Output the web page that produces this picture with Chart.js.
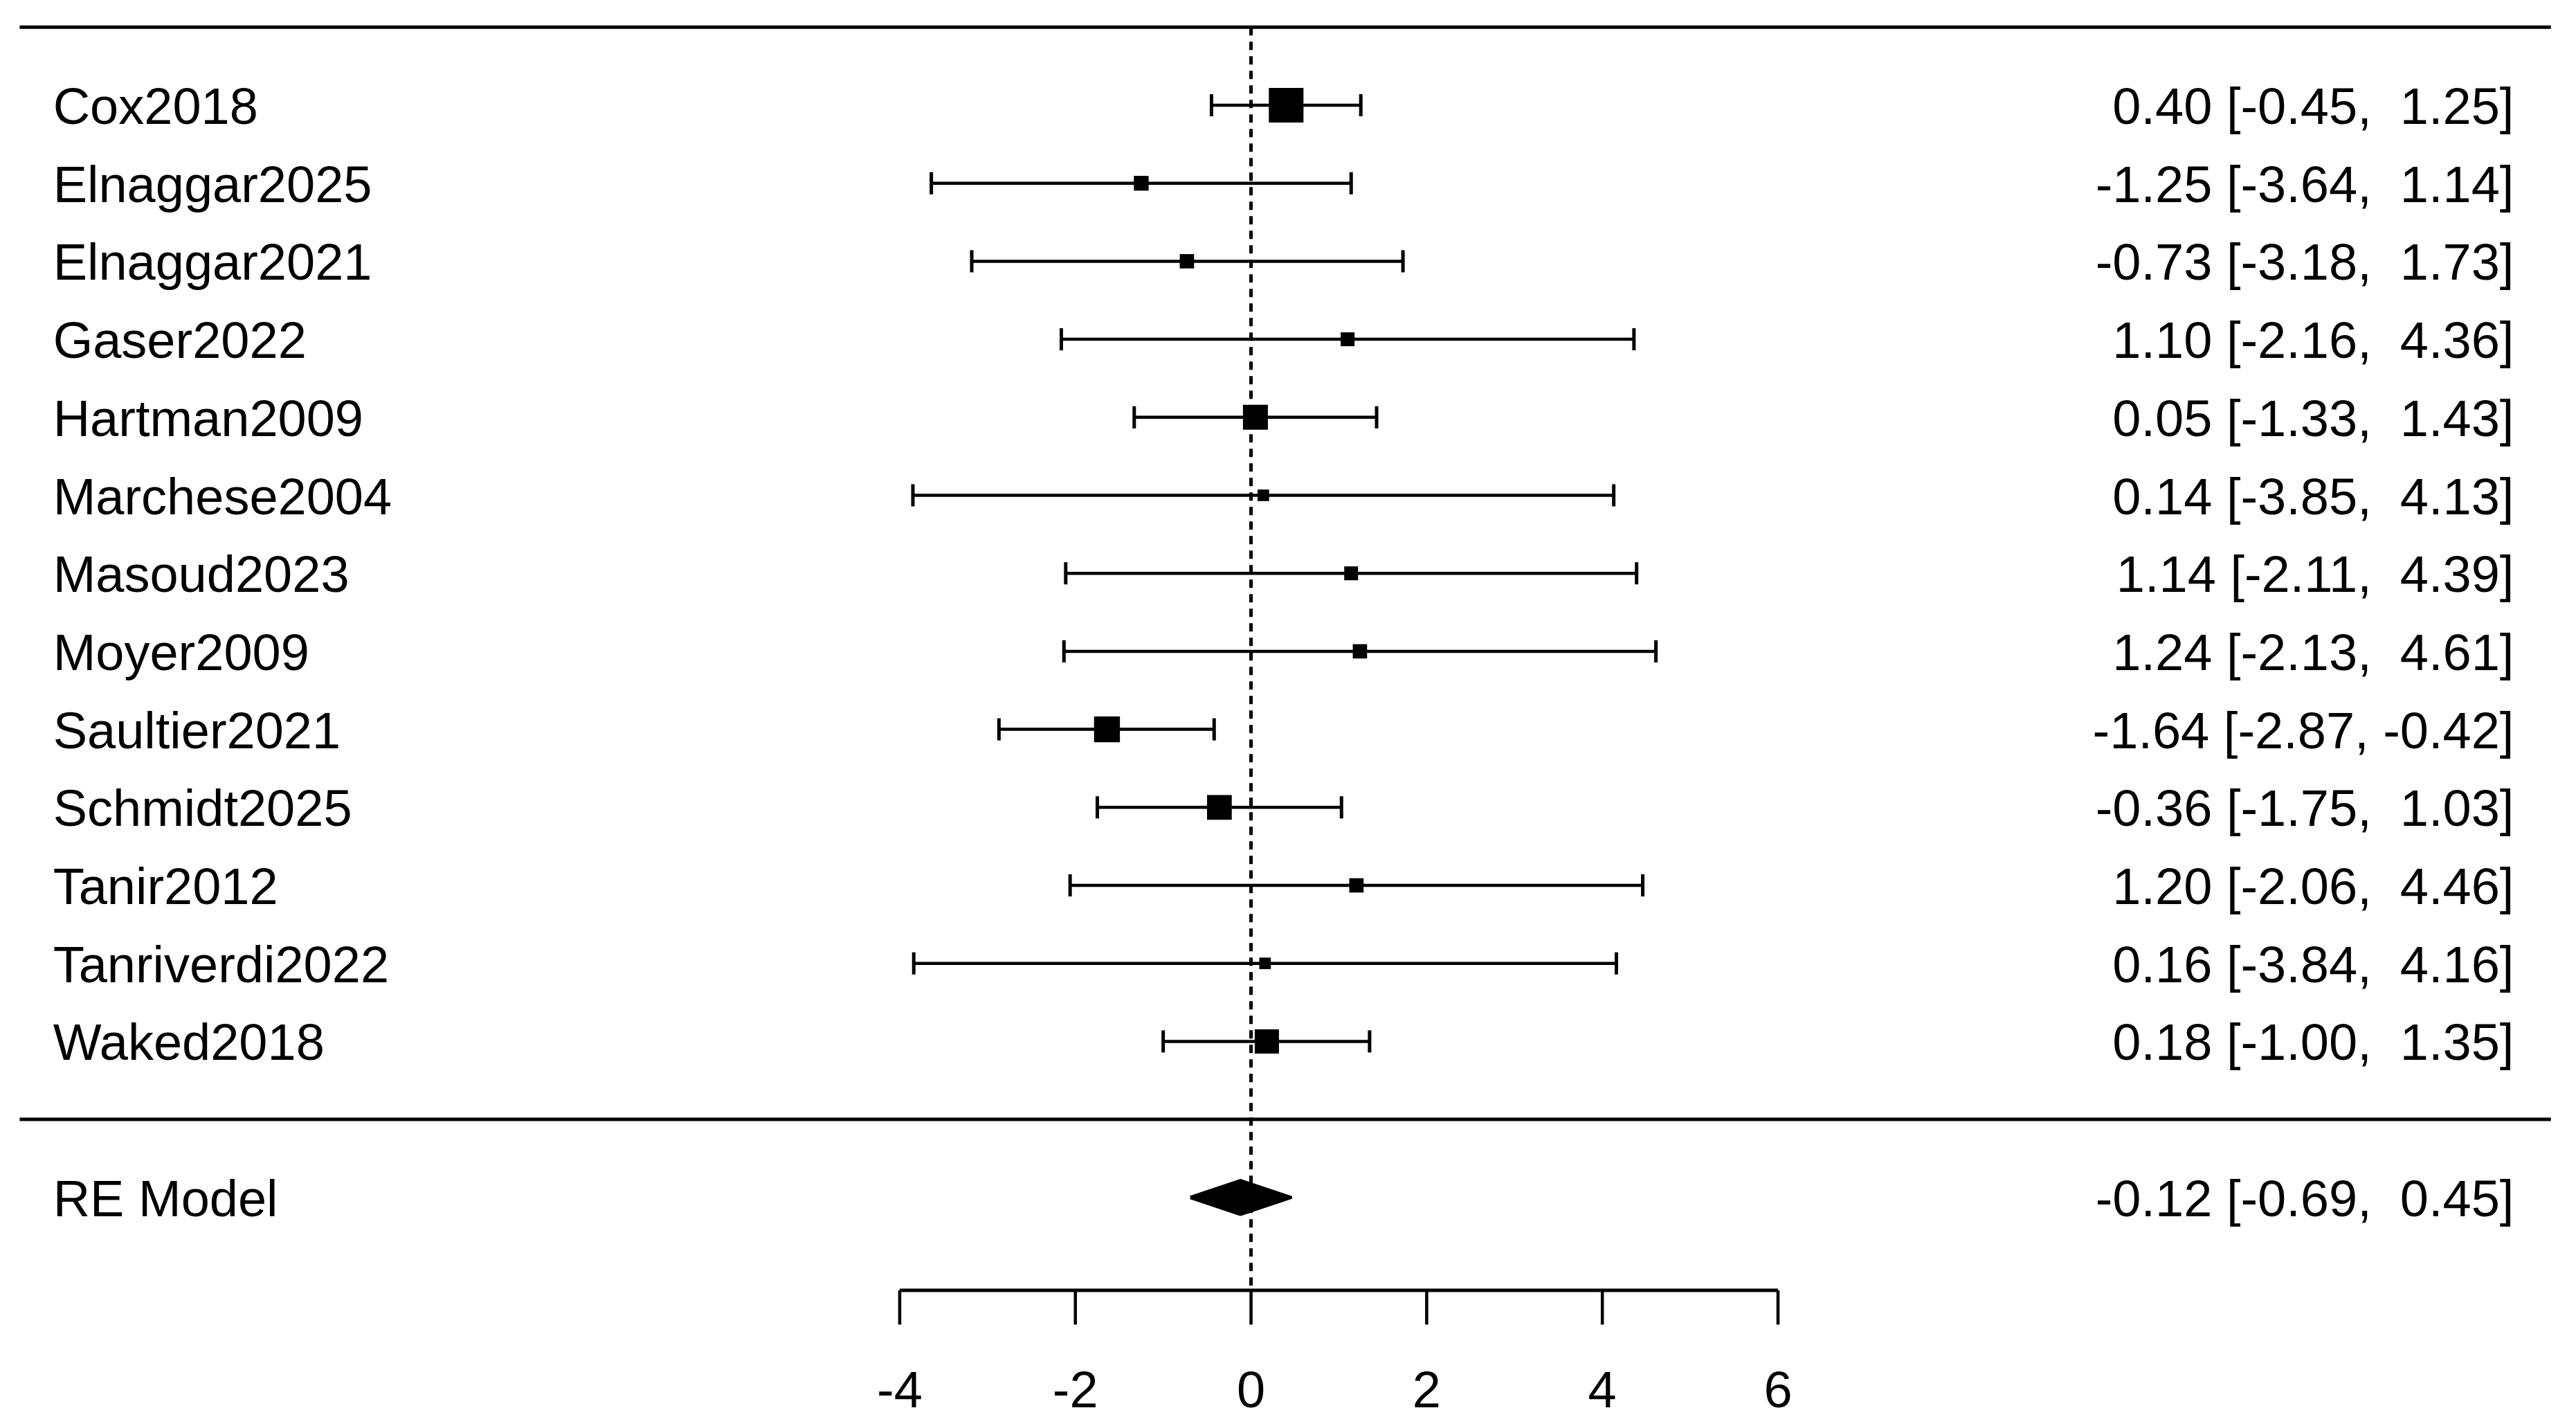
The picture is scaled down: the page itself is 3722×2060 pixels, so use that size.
<!DOCTYPE html>
<html>
<head>
<meta charset="utf-8">
<script src="https://cdn.jsdelivr.net/npm/chart.js@4.4.1/dist/chart.umd.min.js"></script>
<style>
  html, body { margin: 0; padding: 0; background: #fff; }
  canvas { display: block; }
</style>
</head>
<body>
<canvas id="forest_chart" width="3722" height="2060"></canvas>
<script>
// study data
const study_names = ['Cox2018', 'Elnaggar2025', 'Elnaggar2021', 'Gaser2022', 'Hartman2009', 'Marchese2004',
    'Masoud2023', 'Moyer2009', 'Saultier2021', 'Schmidt2025', 'Tanir2012', 'Tanriverdi2022', 'Waked2018'];
const estimates = [0.40, -1.25, -0.73, 1.10, 0.05, 0.14, 1.14, 1.24, -1.64, -0.36, 1.20, 0.16, 0.18];
const ci_lower = [-0.45, -3.64, -3.18, -2.16, -1.33, -3.85, -2.11, -2.13, -2.87, -1.75, -2.06, -3.84, -1.00];
const ci_upper = [1.25, 1.14, 1.73, 4.36, 1.43, 4.13, 4.39, 4.61, -0.42, 1.03, 4.46, 4.16, 1.35];
// relative square size (study weight), estimated from the squares
const weights = [1.5, 0.64, 0.62, 0.6, 1.08, 0.5, 0.6, 0.62, 1.12, 1.07, 0.62, 0.5, 1.05];

const summary_label = 'RE Model';
const summary_est = -0.12;
const summary_lower = -0.69;
const summary_upper = 0.45;

const x_ticks = [-4, -2, 0, 2, 4, 6];

// layout in plot units (rows counted from top, x in effect units)
const XLIM = [-14.02, 14.80];
const LABEL_X = -13.64;
const CI_TEXT_X = 14.38;
const ROW_TOP = 0;
const ROW_SEP = 14;
const ROW_SUMMARY = 15;
const ROW_AXIS = 16.19;
const ROW_TICK_END = 16.63;
const ROW_TICK_LABEL = 17.45;
const FONT = '74px "Liberation Sans", Arial, sans-serif';

function fmt(v) {
    return v.toFixed(2);
}
function ci_text(est, lo, hi) {
    return fmt(est) + ' [' + fmt(lo).padStart(5, ' ') + ', ' + fmt(hi).padStart(5, ' ') + ']';
}

function seg(x1, y1, x2, y2, width, dash) {
    return {
        type: 'line',
        data: [{x: x1, y: y1}, {x: x2, y: y2}],
        borderColor: '#000',
        borderWidth: width,
        borderDash: dash || [],
        pointRadius: 0,
        fill: false,
        tension: 0
    };
}

let datasets = [];

// reference line at zero
datasets.push(seg(0, ROW_TOP, 0, ROW_AXIS, 5, [12, 9]));
// top rule and separator
datasets.push(seg(XLIM[0], ROW_TOP, XLIM[1], ROW_TOP, 5));
datasets.push(seg(XLIM[0], ROW_SEP, XLIM[1], ROW_SEP, 5));

// confidence intervals
study_names.forEach((name, i) => {
    datasets.push(seg(ci_lower[i], i + 1, ci_upper[i], i + 1, 4.5));
});

// whisker caps
let caps = [];
study_names.forEach((name, i) => {
    caps.push({x: ci_lower[i], y: i + 1});
    caps.push({x: ci_upper[i], y: i + 1});
});
datasets.push({
    type: 'scatter',
    data: caps,
    pointStyle: 'line',
    rotation: 90,
    pointRadius: 16,
    borderWidth: 5,
    borderColor: '#000',
    backgroundColor: '#000'
});

// weighted squares
datasets.push({
    type: 'scatter',
    data: estimates.map((v, i) => ({x: v, y: i + 1})),
    pointStyle: 'rect',
    pointRadius: weights.map(w => w * 23.6),
    borderWidth: 0,
    backgroundColor: '#000',
    borderColor: '#000'
});

// summary diamond
const dh = 0.215;
datasets.push({
    type: 'line',
    data: [
        {x: summary_lower, y: ROW_SUMMARY},
        {x: summary_est, y: ROW_SUMMARY - dh},
        {x: summary_upper, y: ROW_SUMMARY},
        {x: summary_est, y: ROW_SUMMARY + dh},
        {x: summary_lower, y: ROW_SUMMARY}
    ],
    borderColor: '#000',
    backgroundColor: '#000',
    borderWidth: 5,
    borderJoinStyle: 'round',
    pointRadius: 0,
    fill: 'shape',
    tension: 0
});

// x axis and ticks
datasets.push(seg(x_ticks[0], ROW_AXIS, x_ticks[x_ticks.length - 1], ROW_AXIS, 5));
x_ticks.forEach(t => datasets.push(seg(t, ROW_AXIS, t, ROW_TICK_END, 4.5)));

const text_plugin = {
    id: 'forest_text',
    afterDatasetsDraw(chart) {
        const ctx = chart.ctx;
        const xs = chart.scales.x;
        const ys = chart.scales.y;
        const shift = 27;
        ctx.save();
        ctx.fillStyle = '#000';
        ctx.font = FONT;
        ctx.textBaseline = 'alphabetic';

        study_names.forEach((name, i) => {
            const py = ys.getPixelForValue(i + 1) + shift;
            ctx.textAlign = 'left';
            ctx.fillText(name, xs.getPixelForValue(LABEL_X), py);
            ctx.textAlign = 'right';
            ctx.fillText(ci_text(estimates[i], ci_lower[i], ci_upper[i]), xs.getPixelForValue(CI_TEXT_X), py);
        });

        const sy = ys.getPixelForValue(ROW_SUMMARY) + shift;
        ctx.textAlign = 'left';
        ctx.fillText(summary_label, xs.getPixelForValue(LABEL_X), sy);
        ctx.textAlign = 'right';
        ctx.fillText(ci_text(summary_est, summary_lower, summary_upper), xs.getPixelForValue(CI_TEXT_X), sy);

        ctx.textAlign = 'center';
        x_ticks.forEach(t => {
            ctx.fillText(String(t), xs.getPixelForValue(t), ys.getPixelForValue(ROW_TICK_LABEL) + shift);
        });
        ctx.restore();
    }
};

const ctx = document.getElementById('forest_chart').getContext('2d');
const forest = new Chart(ctx, {
    type: 'line',
    data: {datasets: datasets},
    options: {
        responsive: false,
        animation: false,
        events: [],
        layout: {padding: 0, autoPadding: false},
        plugins: {
            legend: {display: false},
            tooltip: {enabled: false},
            title: {display: false}
        },
        scales: {
            x: {type: 'linear', min: -14.244, max: 15.086, display: false},
            y: {type: 'linear', min: -0.349, max: 17.93, reverse: true, display: false}
        }
    },
    plugins: [text_plugin]
});
</script>
</body>
</html>
